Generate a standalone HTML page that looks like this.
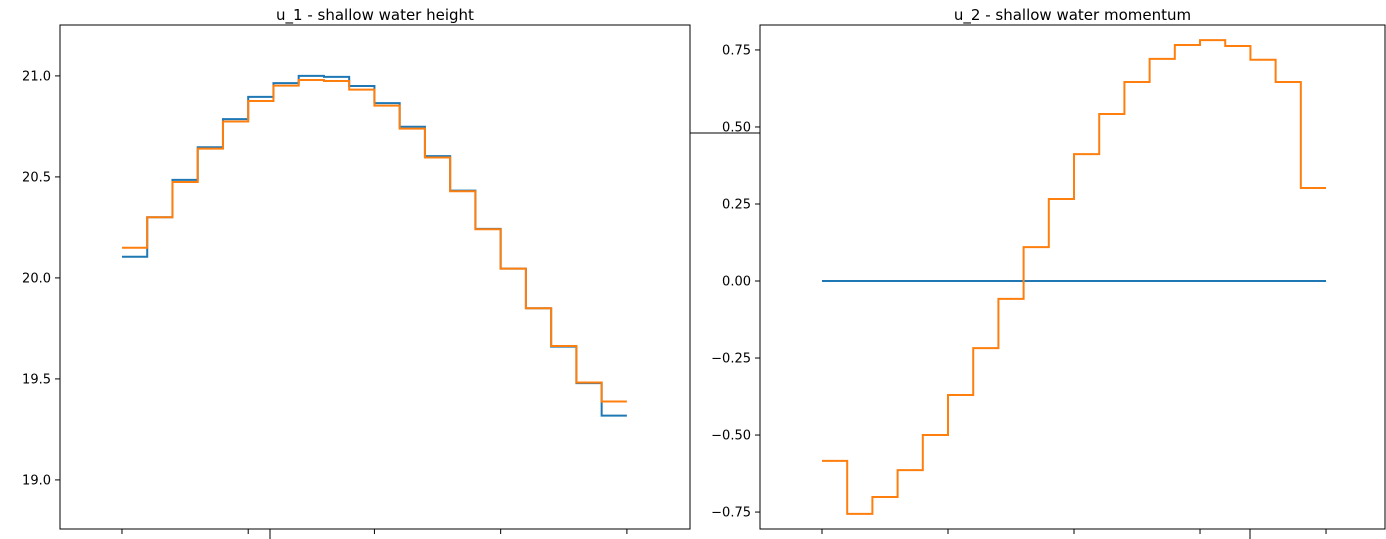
<!DOCTYPE html>
<html><head><meta charset="utf-8"><style>
body{margin:0;background:#fff;width:1386px;height:539px;overflow:hidden}
svg{display:block;font-family:"DejaVu Sans","Liberation Sans",sans-serif}
</style></head><body>
<svg id="fig" width="1386" height="539" xmlns="http://www.w3.org/2000/svg"></svg>
<script>
const u1Blue=[20.105,20.30,20.485,20.647,20.786,20.896,20.964,21.0,20.995,20.95,20.865,20.748,20.603,20.432,20.243,20.046,19.85,19.66,19.479,19.318];
const u1Orange=[20.149,20.30,20.475,20.64,20.774,20.876,20.952,20.98,20.975,20.932,20.853,20.739,20.596,20.429,20.241,20.046,19.85,19.663,19.482,19.388];
const u2Blue=[0,0,0,0,0,0,0,0,0,0,0,0,0,0,0,0,0,0,0,0];
const u2Orange=[-0.584,-0.756,-0.701,-0.614,-0.500,-0.370,-0.218,-0.058,0.110,0.266,0.412,0.542,0.646,0.721,0.766,0.782,0.763,0.718,0.646,0.302];
const u1Ticks=[19.0,19.5,20.0,20.5,21.0];
const u1TickLabels=["19.0","19.5","20.0","20.5","21.0"];
const u2Ticks=[-0.75,-0.5,-0.25,0,0.25,0.5,0.75];
const u2TickLabels=["\u22120.75","\u22120.50","\u22120.25","0.00","0.25","0.50","0.75"];
const xTicks=[0,5,10,15,20];

const NS="http://www.w3.org/2000/svg";
const svg=document.getElementById('fig');
function mk(tag,attrs,parent){const e=document.createElementNS(NS,tag);for(const k in attrs)e.setAttribute(k,attrs[k]);(parent||svg).appendChild(e);return e;}

function panel(name,L,R,T,B,xmin,xmax,ymin,ymax,blue,orange,ticks,labels,title,extraTick){
  const g=mk('g',{});
  
  
  const sx=v=>L+(v-xmin)/(xmax-xmin)*(R-L);
  const sy=v=>B-(v-ymin)/(ymax-ymin)*(B-T);
  function step(vals,color,nm){
    let d='';
    vals.forEach((v,i)=>{const x0=sx(i),x1=sx(i+1),y=sy(v);d+=(i===0?'M':'L')+x0+' '+y+'L'+x1+' '+y;});
    const p=mk('path',{d:d,fill:'none',stroke:color,'stroke-width':2},g);
    
    
  }
  step(blue,'#1f77b4','series-initial');
  step(orange,'#ff7f0e','series-final');
  const fr=mk('rect',{x:L,y:T,width:R-L,height:B-T,fill:'none',stroke:'#000','stroke-width':1},g);
  
  
  ticks.forEach((t,i)=>{
    const y=sy(t);
    mk('line',{x1:L-5,x2:L,y1:y,y2:y,stroke:'#000','stroke-width':1},g);
    const tx=mk('text',{x:L-9,y:y+4.5,'text-anchor':'end','font-size':13,fill:'#000'},g);
    tx.textContent=labels[i];
    
    
  });
  xTicks.forEach(t=>{const x=sx(t);mk('line',{x1:x,x2:x,y1:B,y2:B+5,stroke:'#000','stroke-width':1},g);});
  mk('line',{x1:extraTick,x2:extraTick,y1:B,y2:B+10,stroke:'#000','stroke-width':1},g);
  const tt=mk('text',{x:(L+R)/2,y:T-5,'text-anchor':'middle','font-size':15,fill:'#000'},g);
  tt.textContent=title;
  
  
}
panel('u1-height-panel',60,690,25,529,-2.455,22.5,18.757,21.252,u1Blue,u1Orange,u1Ticks,u1TickLabels,'u_1 - shallow water height',270);
panel('u2-momentum-panel',760,1385,25,529,-2.46,22.34,-0.805,0.831,u2Blue,u2Orange,u2Ticks,u2TickLabels,'u_2 - shallow water momentum',1250);
const ln=mk('line',{x1:690,x2:760,y1:133,y2:133,stroke:'#000','stroke-width':1});


</script>
</body></html>
